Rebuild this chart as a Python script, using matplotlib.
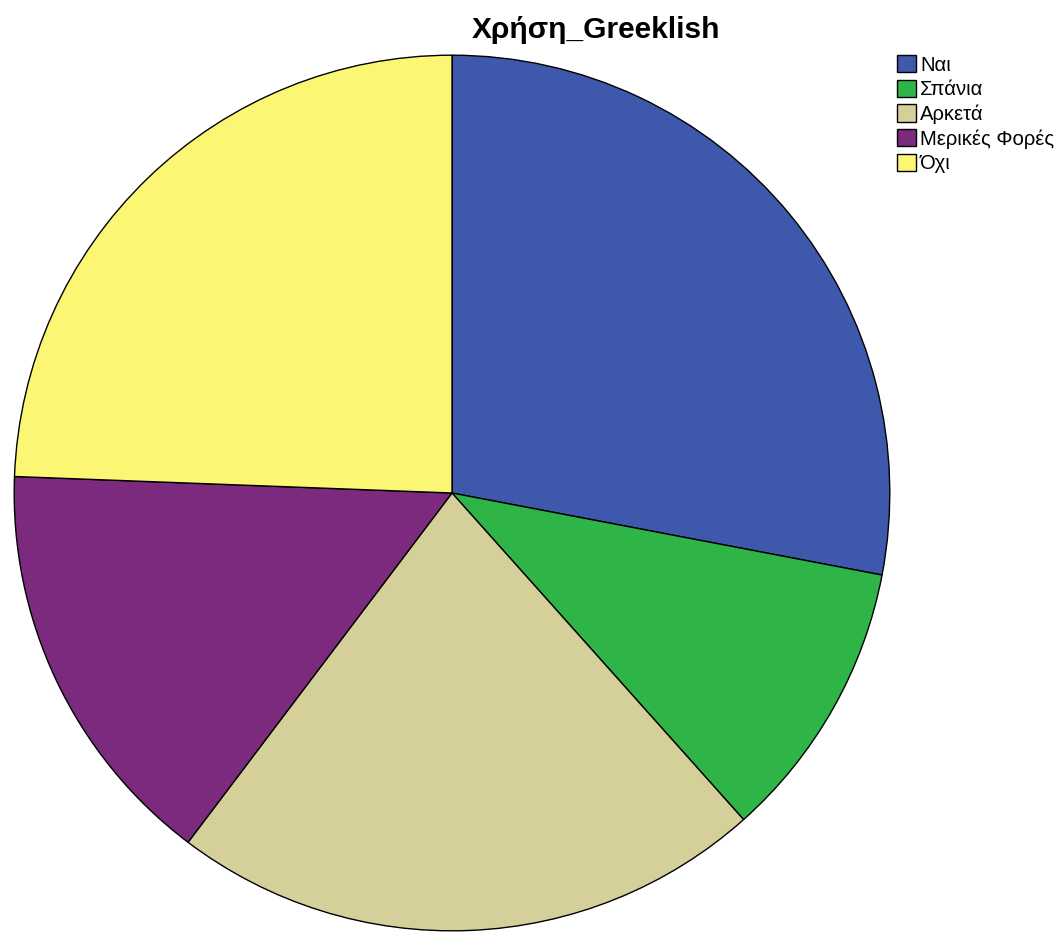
import matplotlib
matplotlib.use("Agg")
import matplotlib.pyplot as plt
from matplotlib.patches import Patch

categories = ["Ναι", "Σπάνια", "Αρκετά", "Μερικές Φορές", "Όχι"]
values = [28.0, 10.4, 21.9, 15.3, 24.4]
colors = ["#3e58ac", "#2fb547", "#d5cf99", "#7b2a7e", "#fbf775"]
title = "Χρήση_Greeklish"

W, H = 1063, 934
fig = plt.figure(figsize=(W / 100, H / 100), dpi=100)
fig.patch.set_facecolor("white")

cx, cy, r = 452, 493, 440
ax = fig.add_axes([(cx - r) / W, (H - cy - r) / H, 2 * r / W, 2 * r / H])
ax.pie(values, colors=colors, startangle=90, counterclock=False, radius=1,
       wedgeprops=dict(edgecolor="black", linewidth=1.0))
ax.set_xlim(-1.005, 1.005)
ax.set_ylim(-1.005, 1.005)
ax.set_aspect("equal")
ax.axis("off")

fig.text(596 / W, 1 - 30 / H, title, ha="center", va="center",
         fontsize=21.5, fontweight="bold", family=["Liberation Sans", "DejaVu Sans"])

handles = [Patch(facecolor=c, edgecolor="black", linewidth=1.0) for c in colors]
fig.legend(handles, categories, loc="upper left",
           bbox_to_anchor=(897 / W, 1 - 55 / H), frameon=False,
           prop=dict(family=["Liberation Sans", "DejaVu Sans"], size=14.6),
           handlelength=0.93, handleheight=0.93,
           handletextpad=0.2, labelspacing=0.25, borderaxespad=0,
           borderpad=0)

fig.savefig("out.png", dpi=100, facecolor="white")
